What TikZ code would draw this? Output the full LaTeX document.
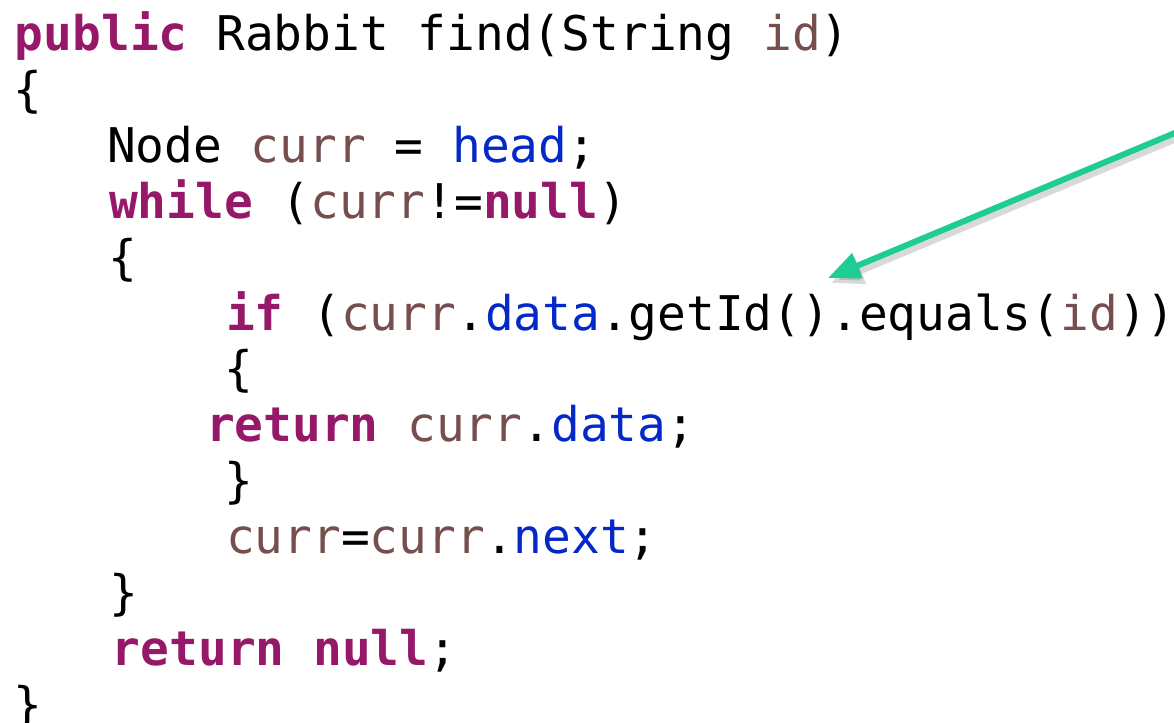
\documentclass[tikz,border=0pt]{standalone}
\usepackage{fontspec}
\setmonofont{DejaVu Sans Mono}
\usetikzlibrary{arrows.meta,positioning}

\definecolor{kwpurple}{RGB}{149,25,104}
\definecolor{varbrown}{RGB}{118,78,78}
\definecolor{fldblue}{RGB}{5,40,200}
\definecolor{arrgreen}{RGB}{30,204,150}

\newcommand{\kw}[1]{\textbf{\textcolor{kwpurple}{#1}}}
\newcommand{\vr}[1]{\textcolor{varbrown}{#1}}
\newcommand{\fd}[1]{\textcolor{fldblue}{#1}}

\tikzset{
  codeline/.style={anchor=base west, inner sep=0pt, outer sep=0pt,
    font=\ttfamily\fontsize{23.9}{28}\selectfont},
  pointer/.style={arrgreen, line width=3pt,
    -{Triangle[length=16pt,width=13pt]}},
  pointershadow/.style={black, opacity=0.15, line width=3.4pt,
    -{Triangle[length=16pt,width=13.5pt]}}
}

\begin{document}
\begin{tikzpicture}[x=0.5pt,y=-0.5pt]
    \useasboundingbox (0,0) rectangle (1174,723);

    % draw code lines
    \node[codeline] (l1)  at (15,50)   {\kw{public} Rabbit find(String \vr{id})};
    \node[codeline] (l2)  at (13,106)  {\{};
    \node[codeline] (l3)  at (107,162) {Node \vr{curr} = \fd{head};};
    \node[codeline] (l4)  at (109,218) {\kw{while} (\vr{curr}!=\kw{null})};
    \node[codeline] (l5)  at (108,274) {\{};
    \node[codeline] (l6)  at (226,330) {\kw{if} (\vr{curr}.\fd{data}.getId().equals(\vr{id}))};
    \node[codeline] (l7)  at (224,385) {\{};
    \node[codeline] (l8)  at (206,441) {\kw{return} \vr{curr}.\fd{data};};
    \node[codeline] (l9)  at (224,497) {\}};
    \node[codeline] (l10) at (226,553) {\vr{curr}=\vr{curr}.\fd{next};};
    \node[codeline] (l11) at (109,609) {\}};
    \node[codeline] (l12) at (112,665) {\kw{return} \kw{null};};
    \node[codeline] (l13) at (13,721)  {\}};

    % draw pointer
    \coordinate (tail) at (1182,130);
    \coordinate (tip) at (828,278);
    \draw[pointershadow] ([shift={(3,5)}]tail) -- ([shift={(3,5)}]tip);
    \draw[pointer] (tail) -- (tip);
\end{tikzpicture}
\end{document}
